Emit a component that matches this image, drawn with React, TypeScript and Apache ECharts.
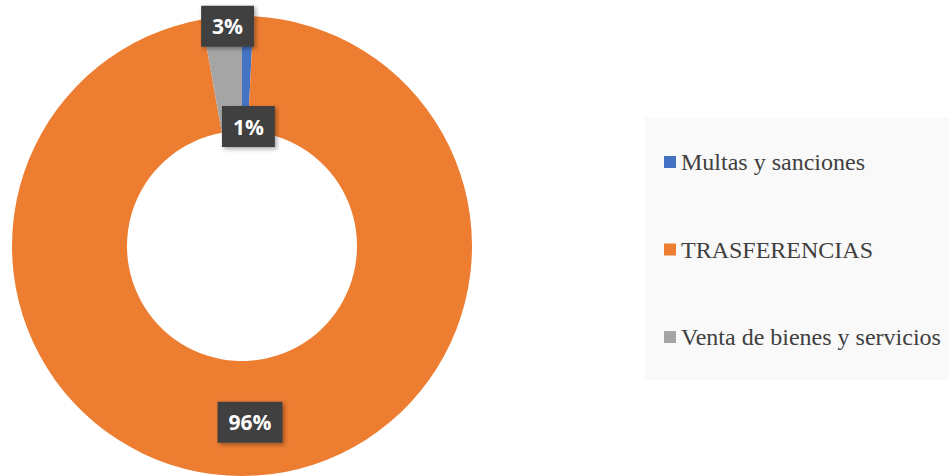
import React, { useEffect, useRef } from "react";
import * as echarts from "echarts";

const categories = ["Multas y sanciones", "TRASFERENCIAS", "Venta de bienes y servicios"];
const values = [0.8, 96.4, 2.8];
const colors = ["#4472c4", "#ed7d31", "#a5a5a5"];
const labelOffsets: [number, number][] = [[2, 56], [-3, 1], [1, -45]];

export default function App() {
  const ref = useRef<HTMLDivElement>(null);
  useEffect(() => {
    if (!ref.current) return;
    const chart = echarts.init(ref.current, null, { renderer: "svg" });
    chart.setOption({
      animation: false,
      backgroundColor: "#ffffff",
      color: colors,
      legend: {
        orient: "vertical",
        left: 645,
        top: 118,
        padding: [30, 20, 29, 19],
        backgroundColor: "#f9f9f9",
        icon: "rect",
        itemWidth: 12,
        itemHeight: 12,
        itemGap: 59.5,
        data: categories,
        textStyle: {
          fontFamily: "'Liberation Serif', 'Times New Roman', serif",
          fontSize: 24,
          lineHeight: 28,
          color: "#404040",
        },
      },
      series: [
        {
          type: "pie",
          center: [242, 246],
          radius: [115, 230],
          startAngle: 90,
          clockwise: true,
          avoidLabelOverlap: false,
          labelLine: { show: false },
          emphasis: { disabled: true },
          itemStyle: { borderWidth: 0 },
          label: {
            show: true,
            position: "inside",
            formatter: (p: any) => Math.round(p.percent) + "%",
            color: "#ffffff",
            fontFamily: "'Open Sans', 'Noto Sans', sans-serif",
            fontWeight: "bold",
            fontSize: 21,
            lineHeight: 25,
            backgroundColor: "#404040",
            padding: [8, 11],
            shadowColor: "rgba(0,0,0,0.35)",
            shadowBlur: 4,
            shadowOffsetX: 2,
            shadowOffsetY: 2,
          },
          data: categories.map((name, i) => ({
            name,
            value: values[i],
            label: { offset: labelOffsets[i] },
          })),
        },
      ],
    });
    return () => chart.dispose();
  }, []);
  return (
    <div
      ref={ref}
      style={{ position: "fixed", left: 0, top: 0, width: 949, height: 476 }}
    />
  );
}
